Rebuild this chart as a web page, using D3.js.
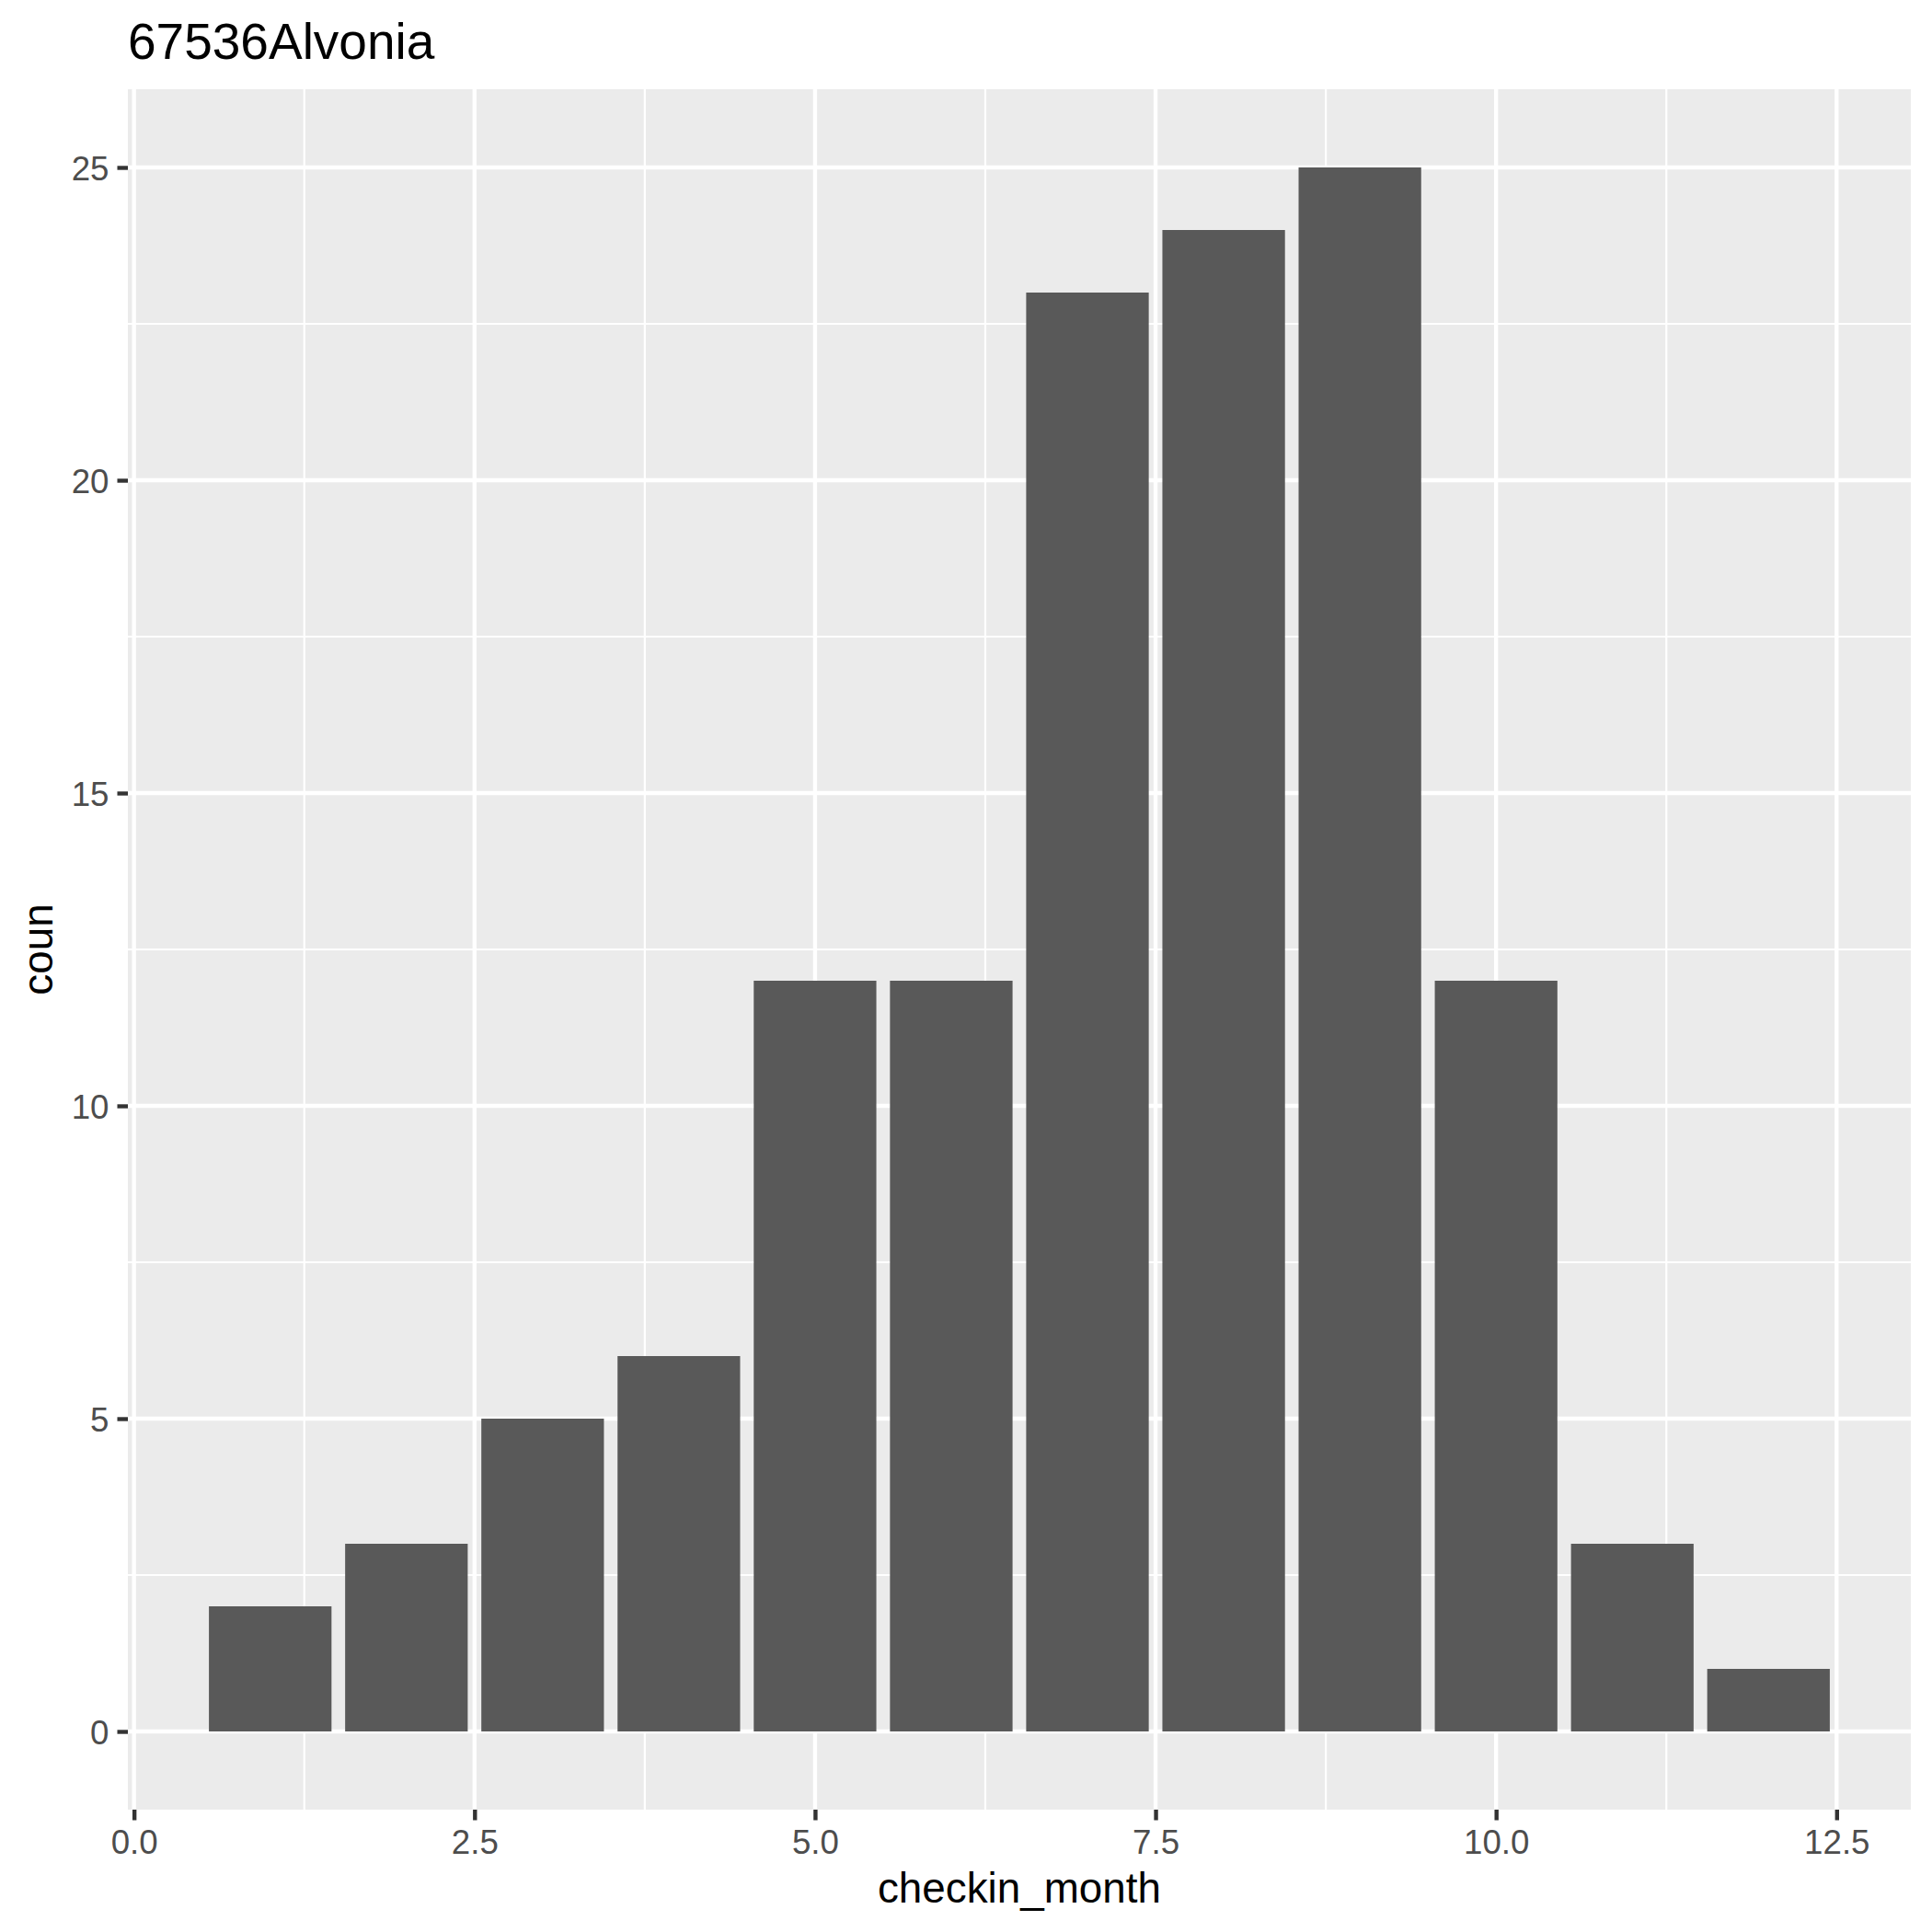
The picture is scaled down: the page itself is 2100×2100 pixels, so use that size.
<!DOCTYPE html>
<html>
<head>
<meta charset="utf-8">
<script src="https://cdn.jsdelivr.net/npm/d3@7"></script>
<style>
  body { margin: 0; background: #fff; }
  text { font-family: "Liberation Sans", Arial, sans-serif; }
</style>
</head>
<body>
<script>
// data
var months = [1, 2, 3, 4, 5, 6, 7, 8, 9, 10, 11, 12];
var counts = [2, 3, 5, 6, 12, 12, 23, 24, 25, 12, 3, 1];
var xTicks = [0, 2.5, 5, 7.5, 10, 12.5];
var xMinor = [1.25, 3.75, 6.25, 8.75, 11.25];
var yTicks = [0, 5, 10, 15, 20, 25];
var yMinor = [2.5, 7.5, 12.5, 17.5, 22.5];

var W = 2100, H = 2100;
var panel = {left: 139, right: 2077, top: 97, bottom: 1967};
var barWidth = 0.9;

var svg = d3.select("body").append("svg")
  .attr("width", W)
  .attr("height", H);

// ggplot style expansion: 5% of range on each side
var xlo = months[0] - barWidth / 2, xhi = months[months.length - 1] + barWidth / 2;
var xpad = (xhi - xlo) * 0.05;
var x = d3.scaleLinear()
  .domain([xlo - xpad, xhi + xpad])
  .range([panel.left, panel.right]);

var ymax = d3.max(counts);
var y = d3.scaleLinear()
  .domain([-ymax * 0.05, ymax * 1.05])
  .range([panel.bottom, panel.top]);

// panel background
svg.append("rect")
  .attr("x", panel.left)
  .attr("y", panel.top)
  .attr("width", panel.right - panel.left)
  .attr("height", panel.bottom - panel.top)
  .attr("fill", "#EBEBEB");

// grid lines
var grid = svg.append("g").attr("stroke", "#fff");

grid.selectAll(".xminor").data(xMinor).enter().append("line")
  .attr("x1", d => x(d)).attr("x2", d => x(d))
  .attr("y1", panel.top).attr("y2", panel.bottom)
  .attr("stroke-width", 2.2);

grid.selectAll(".yminor").data(yMinor).enter().append("line")
  .attr("y1", d => y(d)).attr("y2", d => y(d))
  .attr("x1", panel.left).attr("x2", panel.right)
  .attr("stroke-width", 2.2);

grid.selectAll(".xmajor").data(xTicks).enter().append("line")
  .attr("x1", d => x(d)).attr("x2", d => x(d))
  .attr("y1", panel.top).attr("y2", panel.bottom)
  .attr("stroke-width", 4.4);

grid.selectAll(".ymajor").data(yTicks).enter().append("line")
  .attr("y1", d => y(d)).attr("y2", d => y(d))
  .attr("x1", panel.left).attr("x2", panel.right)
  .attr("stroke-width", 4.4);

// bars
svg.selectAll(".bar").data(months).enter().append("rect")
  .attr("x", (d) => x(d - barWidth / 2))
  .attr("width", (d) => x(d + barWidth / 2) - x(d - barWidth / 2))
  .attr("y", (d, i) => y(counts[i]))
  .attr("height", (d, i) => y(0) - y(counts[i]))
  .attr("fill", "#595959");

// axes
var xAxis = svg.append("g")
  .attr("transform", "translate(0," + panel.bottom + ")")
  .call(d3.axisBottom(x).tickValues(xTicks).tickFormat(d3.format(".1f"))
    .tickSize(11.5).tickPadding(10));

var yAxis = svg.append("g")
  .attr("transform", "translate(" + panel.left + ",0)")
  .call(d3.axisLeft(y).tickValues(yTicks).tickFormat(d3.format("d"))
    .tickSize(11.5).tickPadding(9));

[xAxis, yAxis].forEach(function(a) {
  a.select(".domain").remove();
  a.selectAll(".tick line").attr("stroke", "#333333").attr("stroke-width", 4.4);
  a.selectAll(".tick text")
    .attr("fill", "#4D4D4D")
    .style("font-family", "'Liberation Sans', Arial, sans-serif")
    .style("font-size", "36.7px");
});
yAxis.selectAll(".tick text").attr("dy", "0.36em");

// titles
svg.append("text")
  .attr("x", panel.left)
  .attr("y", 64)
  .style("font-size", "55px")
  .attr("fill", "#000")
  .text("67536Alvonia");

svg.append("text")
  .attr("x", (panel.left + panel.right) / 2)
  .attr("y", 2068)
  .attr("text-anchor", "middle")
  .style("font-size", "45.8px")
  .attr("fill", "#000")
  .text("checkin_month");

svg.append("text")
  .attr("transform", "translate(57," + (panel.top + panel.bottom) / 2 + ") rotate(-90)")
  .attr("text-anchor", "middle")
  .style("font-size", "45.8px")
  .attr("fill", "#000")
  .text("coun");
</script>
</body>
</html>
